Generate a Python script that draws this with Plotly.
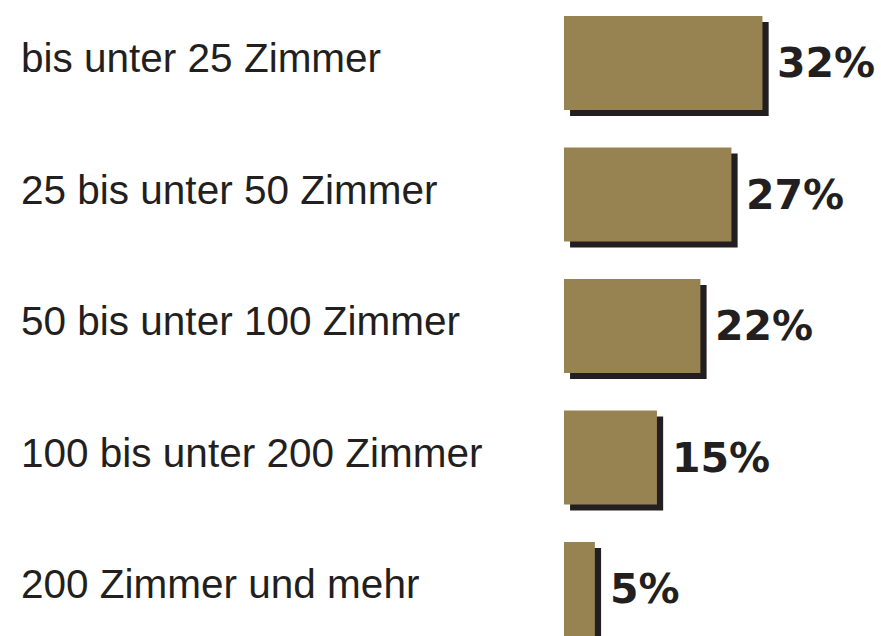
import plotly.graph_objects as go

categories = [
    "bis unter 25 Zimmer",
    "25 bis unter 50 Zimmer",
    "50 bis unter 100 Zimmer",
    "100 bis unter 200 Zimmer",
    "200 Zimmer und mehr",
]
shares = [32, 27, 22, 15, 5]

BAR_COLOUR = "#978352"
SHADOW_COLOUR = "#231f20"
TEXT_COLOUR = "#231f20"

BAR_WIDTH = 0.715
SHADOW_DX = 1.0  # in % units (about 6 px)
SHADOW_DY = 0.045  # in category units (about 6 px)

fig = go.Figure()

# drop shadow drawn first, shifted right and down
fig.add_trace(
    go.Bar(
        x=shares,
        y=categories,
        base=[SHADOW_DX] * len(shares),
        orientation="h",
        width=BAR_WIDTH,
        offset=-BAR_WIDTH / 2 + SHADOW_DY,
        marker=dict(color=SHADOW_COLOUR, line=dict(width=0)),
        hoverinfo="skip",
        showlegend=False,
    )
)
fig.add_trace(
    go.Bar(
        x=shares,
        y=categories,
        orientation="h",
        width=BAR_WIDTH,
        offset=-BAR_WIDTH / 2,
        marker=dict(color=BAR_COLOUR, line=dict(width=0)),
        showlegend=False,
    )
)

annotations = []
for cat, val in zip(categories, shares):
    annotations.append(
        dict(
            x=0.0215,
            xref="paper",
            y=cat,
            yref="y",
            yshift=5,
            text=cat,
            showarrow=False,
            xanchor="left",
            yanchor="middle",
            font=dict(family="Liberation Sans", size=40.5, color=TEXT_COLOUR),
        )
    )
    annotations.append(
        dict(
            x=val,
            y=cat,
            text=f"{val}%",
            showarrow=False,
            xanchor="left",
            yanchor="middle",
            xshift=13,
            font=dict(family="DejaVu Sans", size=41, color=TEXT_COLOUR, weight="bold"),
        )
    )

fig.update_layout(
    width=881,
    height=636,
    margin=dict(l=0, r=0, t=0, b=0),
    paper_bgcolor="white",
    plot_bgcolor="white",
    barmode="overlay",
    xaxis=dict(
        domain=[0.640, 1.0],
        range=[0, 51.1],
        visible=False,
    ),
    yaxis=dict(
        type="category",
        range=[4.357, -0.479],
        visible=False,
    ),
    annotations=annotations,
)

fig.write_html(
    "out.html",
    config={"displayModeBar": False},
    post_script="document.body.style.margin='0px';",
)
